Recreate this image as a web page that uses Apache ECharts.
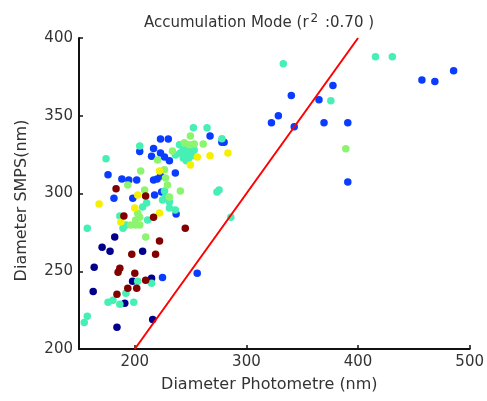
<!DOCTYPE html>
<html>
	<head>
		<meta charset="UTF-8">
		<script type="text/javascript" src="https://cdn.jsdelivr.net/npm/echarts@6/dist/echarts.min.js"></script>
		<title>Accumulation Mode</title>
		<style>
			html, body { margin: 0; padding: 0; background: #fff; }
			#chart { width: 487px; height: 401px; }
		</style>
	</head>
	<body>
		<div id="chart"></div>
		<script type="text/javascript">
			// [photometre, smps] pairs, grouped by marker colour
			var darkBlue = [
				[170.7,265.5],[177.8,262.9],[207,262.9],[182,272],[163.6,252.6],[198,243.5],
				[215,245.5],[162.7,237],[191,229.4],[216,219],[184,214]
			];
			var blue = [
				[223,335],[230,335],[267.4,337],[278,333],[280,333],[204.4,327],[216.8,329],
				[215,324],[223,326],[226.6,323.5],[231,321],[176,312],[188.4,309.4],[194.6,308.7],
				[201.7,308.7],[216.8,308.7],[220,309.4],[223,311.3],[236.3,313.2],[181.3,297],
				[198.2,297],[217.7,299],[224,301],[237,286.8],[224.8,246],[255.9,248.7],
				[322.4,345.5],[328.6,350],[342.8,343],[340.2,363],[365,360.3],[377.5,369.4],
				[369.5,345.5],[390.8,345.5],[390.8,307.4],[457.2,373],[468.8,372],[485.6,379]
			];
			var aqua = [
				[252.5,342.3],[264.7,342.3],[278,335.2],[204.4,330.6],[174.2,322.3],[240,331.3],
				[243.4,328],[247,329.4],[249.6,326.8],[245.2,324.8],[251.4,324.2],[247.9,322.3],
				[243.4,322.9],[253.2,328],[246.1,321],[240.8,326],[236.4,324.8],[226.6,301.6],
				[273.6,301],[275.5,302.2],[286,284.8],[224.8,295.8],[231,294.5],[227.5,297.7],
				[207,291.3],[231,290.6],[236.3,289.4],[210.6,293.9],[186.6,285.5],[211.5,282.9],
				[192,279.7],[189.4,277.7],[157.4,277.7],[215,242.3],[202.6,243.5],[192,235.8],
				[180.4,231.3],[176,230],[186.6,228.7],[199,230],[157.4,221],[154.7,217],
				[333,383.5],[415.6,388],[430.7,388],[375.6,359.7]
			];
			var green = [
				[249.8,337],[261.3,331.9],[244.3,332.6],[248.8,331.3],[253.2,331.9],[220.4,321.6],
				[233.7,327.4],[205.3,314.5],[226.6,315.2],[227.5,310],[229.2,305.5],[193.7,305.5],
				[208.8,302.3],[240.8,301.6],[231,297.7],[202.6,287.3],[204.4,284.8],[200.8,282.9],
				[196.4,279.7],[200.8,279.7],[204.4,279.7],[209.8,272],[389,328.7]
			];
			var yellow = [
				[256,323.5],[267.4,324.2],[283.4,326.1],[249.8,318.3],[222.1,314.5],[202.6,299],
				[168,293.2],[200,290.6],[222.1,287.4],[187.5,281.6]
			];
			var darkRed = [
				[183.2,303],[209.7,298.4],[216.8,284.8],[190.2,285.5],[245.2,277.7],[222.1,269.4],
				[197.3,261],[218.6,261],[186.6,252],[185,249.4],[200,248.7],[209.7,244.2],
				[193.7,239],[201.7,239],[184,235.2]
			];
			var oneToOne = [200, 400];
			var xTicks = [200, 300, 400, 500];

			var font = 'DejaVu Sans, Verdana, sans-serif';
			function dots(name, data, color) {
				return {
					name: name,
					type: 'scatter',
					data: data,
					symbolSize: 7.5,
					itemStyle: {color: color, opacity: 1},
					z: 3
				};
			}

			var myChart = echarts.init(document.getElementById('chart'));
			var option = {
				animation: false,
				title: {
					text: 'Accumulation Mode (r{sup|2} :0.70 )',
					left: 254,
					textAlign: 'center',
					top: 8,
					textStyle: {
						fontFamily: font,
						fontSize: 15,
						fontWeight: 'normal',
						color: '#333',
						rich: {
							sup: {fontSize: 12, verticalAlign: 'top', padding: [0, 2, 8, 2], color: '#333', fontFamily: font}
						}
					}
				},
				grid: {left: 79, right: 14, top: 38, bottom: 52},
				xAxis: {
					type: 'value',
					min: 150,
					max: 500,
					name: 'Diameter Photometre (nm)',
					nameLocation: 'middle',
					nameGap: 28,
					nameTextStyle: {fontFamily: font, fontSize: 16, color: '#333', padding: [0, 10, 0, 0]},
					axisLine: {lineStyle: {color: '#111', width: 2}},
					axisTick: {inside: true, length: 4, customValues: xTicks, lineStyle: {color: '#111', width: 1.5}},
					axisLabel: {customValues: xTicks, fontFamily: font, fontSize: 15, color: '#333', margin: 6},
					splitLine: {show: false}
				},
				yAxis: {
					type: 'value',
					min: 200,
					max: 400,
					interval: 50,
					name: 'Diameter SMPS(nm)',
					nameLocation: 'middle',
					nameGap: 49,
					nameTextStyle: {fontFamily: font, fontSize: 16, color: '#333', padding: [0, 14, 0, 0]},
					axisLine: {show: true, lineStyle: {color: '#111', width: 2}},
					axisTick: {show: true, inside: true, length: 4, lineStyle: {color: '#111', width: 1.5}},
					axisLabel: {fontFamily: font, fontSize: 15, color: '#333', margin: 6},
					splitLine: {show: false}
				},
				series: [
					dots('darkBlue', darkBlue, '#00008c'),
					dots('blue', blue, '#0a3cff'),
					dots('aqua', aqua, '#46f0b4'),
					dots('green', green, '#8cf570'),
					dots('yellow', yellow, '#f5f000'),
					dots('darkRed', darkRed, '#820000'),
					{
						name: '1:1',
						type: 'line',
						data: [[oneToOne[0], oneToOne[0]], [oneToOne[1], oneToOne[1]]],
						symbol: 'none',
						lineStyle: {color: '#ff0000', width: 2},
						z: 4
					}
				]
			};
			myChart.setOption(option);
		</script>
	</body>
</html>
